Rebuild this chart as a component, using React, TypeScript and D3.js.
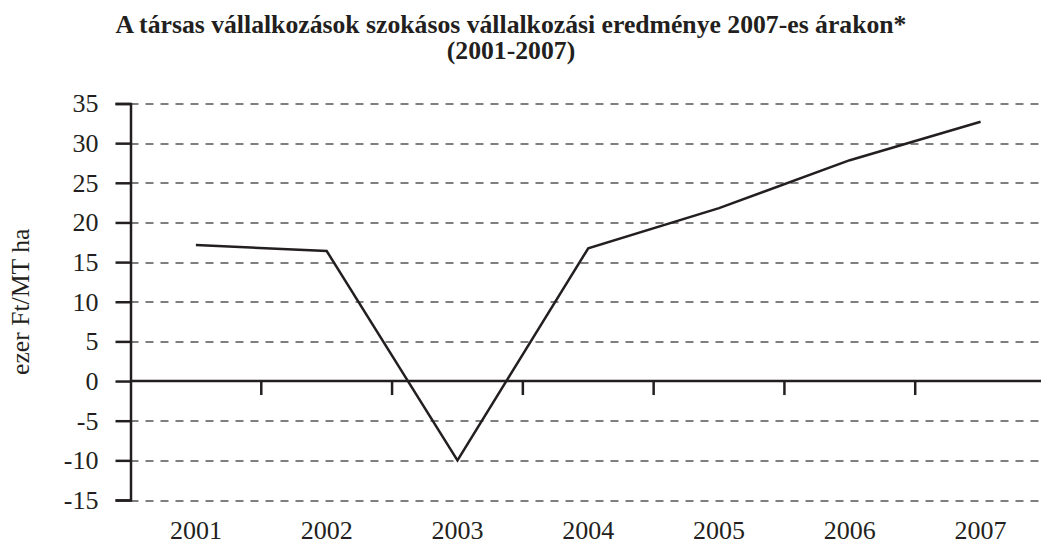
import * as d3 from "d3";
import { useEffect, useRef } from "react";

const YEARS = ["2001", "2002", "2003", "2004", "2005", "2006", "2007"];
const RESULTS = [17.15, 16.4, -10.0, 16.75, 21.8, 27.85, 32.7];
const Y_TICKS = [-15, -10, -5, 0, 5, 10, 15, 20, 25, 30, 35];
const TITLE_LINES = [
  "A társas vállalkozások szokásos vállalkozási eredménye 2007-es árakon*",
  "(2001-2007)",
];
const Y_LABEL = "ezer Ft/MT ha";

const W = 1041;
const H = 542;
const margin = { top: 103.5, right: -5, bottom: 42, left: 130.5 };
const FONT = "'Liberation Serif', 'Times New Roman', serif";

const App = () => {
  const svgRef = useRef<SVGSVGElement>(null);

  useEffect(() => {
    const width = W - margin.left - margin.right;
    const height = H - margin.top - margin.bottom;

    const x = d3.scaleBand().domain(YEARS).range([0, width]).padding(0);
    const y = d3.scaleLinear().domain([-15, 35]).range([height, 0]);

    const svgEl = d3.select(svgRef.current);
    svgEl.selectAll("*").remove();

    // title
    svgEl
      .append("g")
      .selectAll("text")
      .data(TITLE_LINES)
      .enter()
      .append("text")
      .attr("x", 511)
      .attr("y", (_, i) => 33 + i * 26)
      .attr("text-anchor", "middle")
      .attr("font-family", FONT)
      .attr("font-weight", "bold")
      .attr("font-size", 25.7)
      .attr("fill", "#231f20")
      .text((d) => d);

    // y axis title
    svgEl
      .append("text")
      .attr("transform", `translate(29, ${margin.top + height / 2}) rotate(-90)`)
      .attr("text-anchor", "middle")
      .attr("font-family", FONT)
      .attr("font-size", 25.7)
      .attr("fill", "#231f20")
      .text(Y_LABEL);

    const svg = svgEl
      .append("g")
      .attr("transform", `translate(${margin.left},${margin.top})`);

    // dashed grid lines
    svg
      .append("g")
      .selectAll("line")
      .data(Y_TICKS.filter((t) => t !== 0))
      .enter()
      .append("line")
      .attr("x1", 0)
      .attr("x2", width)
      .attr("y1", (d) => Math.round(y(d)) + 0.5)
      .attr("y2", (d) => Math.round(y(d)) + 0.5)
      .attr("stroke", "#555")
      .attr("stroke-width", 1.3)
      .attr("stroke-dasharray", "8,7");

    // y axis
    const yAxis = d3
      .axisLeft(y)
      .tickValues(Y_TICKS)
      .tickSize(15)
      .tickPadding(17)
      .tickFormat((v) => `${v}`);
    const yAxisGroup = svg.append("g").call(yAxis);
    yAxisGroup.select(".domain").attr("stroke", "#231f20").attr("stroke-width", 2.5);
    yAxisGroup.selectAll("line").attr("stroke", "#231f20").attr("stroke-width", 2.5);
    yAxisGroup
      .selectAll("text")
      .attr("font-family", FONT)
      .attr("font-size", 26)
      .attr("fill", "#231f20");

    // zero line with boundary ticks
    const zeroY = y(0);
    svg
      .append("line")
      .attr("x1", 0)
      .attr("x2", width)
      .attr("y1", zeroY)
      .attr("y2", zeroY)
      .attr("stroke", "#231f20")
      .attr("stroke-width", 2.5);
    svg
      .append("g")
      .selectAll("line")
      .data(YEARS.slice(1))
      .enter()
      .append("line")
      .attr("x1", (d) => x(d) as number)
      .attr("x2", (d) => x(d) as number)
      .attr("y1", zeroY)
      .attr("y2", zeroY + 14)
      .attr("stroke", "#231f20")
      .attr("stroke-width", 2.5);

    // category labels at bottom
    svg
      .append("g")
      .selectAll("text")
      .data(YEARS)
      .enter()
      .append("text")
      .attr("x", (d) => (x(d) as number) + x.bandwidth() / 2)
      .attr("y", height + 38.5)
      .attr("text-anchor", "middle")
      .attr("font-family", FONT)
      .attr("font-size", 26)
      .attr("fill", "#231f20")
      .text((d) => d);

    // data line
    const line = d3
      .line<number>()
      .x((_, i) => (x(YEARS[i]) as number) + x.bandwidth() / 2)
      .y((d) => y(d));
    svg
      .append("path")
      .datum(RESULTS)
      .attr("fill", "none")
      .attr("stroke", "#231f20")
      .attr("stroke-width", 2.5)
      .attr("stroke-linejoin", "miter")
      .attr("d", line);
  }, []);

  return (
    <svg
      ref={svgRef}
      width={W}
      height={H}
      style={{ position: "absolute", left: 0, top: 0, background: "#fff" }}
    />
  );
};

export default App;
